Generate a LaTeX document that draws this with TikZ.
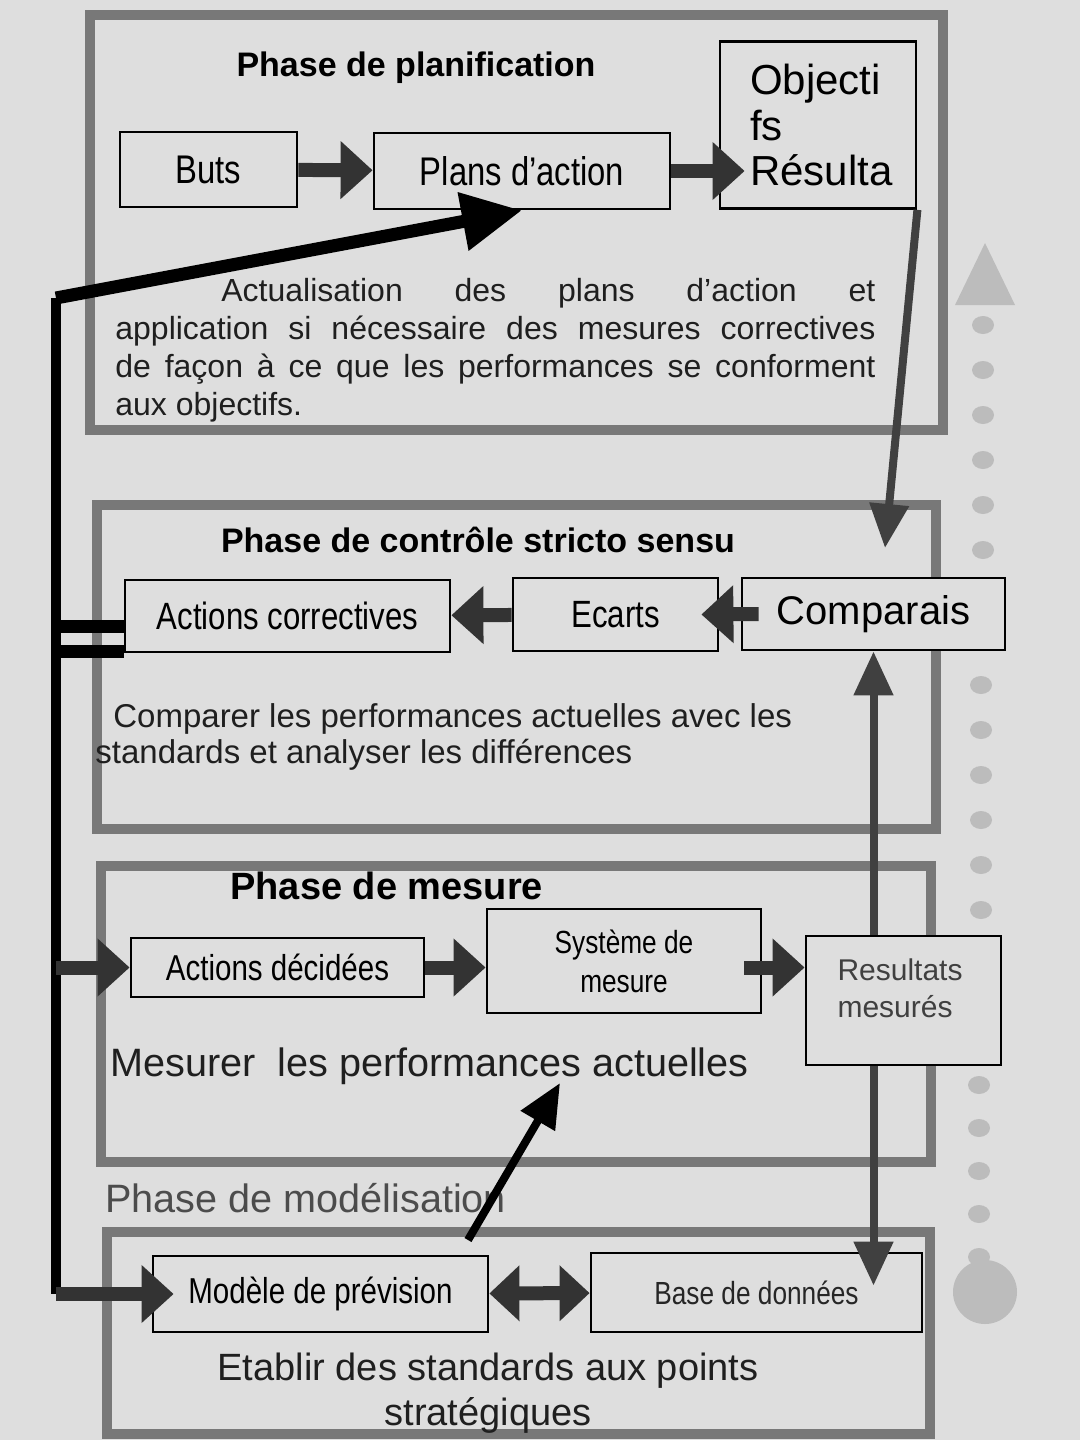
\documentclass[tikz,border=0pt]{standalone}
\usepackage{fontspec}
\setmainfont{Liberation Sans}
\newfontfamily\narrowfont[FakeStretch=0.82]{Liberation Sans}
\usepackage{tikz}
\usetikzlibrary{calc}
\usetikzlibrary{positioning}
\usetikzlibrary{arrows.meta}
\definecolor{pagegray}{RGB}{222,222,222}
\definecolor{framegray}{RGB}{120,120,120}
\definecolor{dotgray}{RGB}{188,188,188}
\tikzset{
  box_n/.style = {draw=black, line width=1.4pt, fill=pagegray, inner sep=2pt,
    align=center, font=\narrowfont\fontsize{19}{22}\selectfont},   % narrow label box
  box_w/.style = {box_n, font=\fontsize{20}{22.5}\selectfont},     % wide label box
  phase_t/.style = {inner sep=0pt, font=\bfseries\fontsize{17}{20}\selectfont}, % phase title
  phase_f/.style = {draw=framegray, line width=5pt},               % phase frame
  body_t/.style = {inner sep=0pt, align=left, text=black!88,
    font=\fontsize{16}{19}\selectfont},                             % running text
  arr_b/.style = {draw=black!80, line width=7pt,
    -{Triangle[length=16pt,width=28pt]}},                           % block arrow
  arr_d/.style = {draw=black!80, line width=7pt,
    {Triangle[length=15pt,width=27pt]}-{Triangle[length=15pt,width=27pt]}},
  loop_l/.style = {draw=black, line width=5pt},                    % feedback line
  side_l/.style = {draw=black!75, line width=4pt,
    -{Triangle[length=22pt,width=19pt]}}                            % thin arrow
}

\begin{document}
\begin{tikzpicture}[x=0.5pt,y=-0.5pt]
\useasboundingbox (0,0) rectangle (1080,1440);
\fill[pagegray] (0,0) rectangle (1080,1440);

% phase frames
\draw[phase_f] (90,15) rectangle (943,430);
\draw[phase_f] (97,505) rectangle (936,829);
\draw[phase_f] (101,866) rectangle (931,1162);
\draw[phase_f] (107,1232) rectangle (930,1434);

% dotted arrow on the right
\fill[dotgray] (955,305) -- (985,243) -- (1015,305) -- cycle;
\foreach \y in {325,370,...,550}
  \fill[dotgray] (983,\y) ellipse [x radius=11, y radius=9];
\foreach \y in {685,730,...,910}
  \fill[dotgray] (981,\y) ellipse [x radius=11, y radius=9];
\foreach \y in {1085,1128,...,1257}
  \fill[dotgray] (979,\y) ellipse [x radius=11, y radius=9];
\fill[dotgray] (985,1292) circle [radius=32];

% planification
\node[phase_t] (t_plan) at (416,68) {Phase de planification};
\node[box_n, minimum width=88.5pt, minimum height=37.5pt,
  font=\narrowfont\fontsize{20}{22}\selectfont] (buts) at (208.5,169.5) {Buts};
\node[box_n, minimum width=148pt, minimum height=38pt,
  font=\narrowfont\fontsize{20}{22}\selectfont] (plans) at (522,171) {Plans d’action};
\node[box_w, minimum width=98pt, minimum height=83.5pt, text width=68pt, align=left,
  font=\fontsize{21}{22.7}\selectfont] (obj) at (818,125) {Objecti\\fs\\Résulta};
\node[body_t, text width=380pt, align=justify, anchor=north west] (txt_plan) at (115,278)
  {\hspace*{53pt}Actualisation des plans d’action et\linebreak
   application si nécessaire des mesures correctives\linebreak
   de façon à ce que les performances se conforment\linebreak
   aux objectifs.};

% controle
\node[phase_t] (t_ctrl) at (478,540) {Phase de contrôle stricto sensu};
\node[box_n, minimum width=162.5pt, minimum height=36pt] (actcorr) at (287.5,616) {Actions correctives};
\node[box_n, minimum width=102.5pt, minimum height=36.5pt] (ecarts) at (615.5,614.5) {Ecarts};
\node[box_w, minimum width=131.5pt, minimum height=36pt] (comp) at (873.5,614) {Comparais};
\node[body_t, anchor=north west, font=\fontsize{16.5}{18}\selectfont] (txt_ctrl) at (95,703)
  {\hspace*{9pt}Comparer les performances actuelles avec les\\standards et analyser les différences};

% mesure
\node[phase_t, anchor=west, font=\bfseries\fontsize{19}{22}\selectfont] (t_mes) at (230,886) {Phase de mesure};
\node[box_n, minimum width=146.5pt, minimum height=29.5pt,
  font=\narrowfont\fontsize{18}{21}\selectfont] (ad) at (277.5,967.5) {Actions décidées};
\node[box_n, minimum width=137pt, minimum height=52pt,
  font=\narrowfont\fontsize{16}{19.5}\selectfont] (sm) at (624,961) {Système de\\mesure};
\node[box_w, minimum width=97.5pt, minimum height=64.5pt, text width=66pt, align=left,
  text=black!75, font=\fontsize{15}{18.5}\selectfont] (rm) at (903.5,1000.5)
  {Resultats\\mesurés\\[-6pt]\mbox{}};
\node[body_t, anchor=west, font=\fontsize{19.8}{22}\selectfont] (txt_mes) at (110,1066)
  {Mesurer\ \ les performances actuelles};

% modelisation
\node[body_t, anchor=west, text=black!70, font=\fontsize{19.8}{22}\selectfont] (t_mod) at (105,1198)
  {Phase de modélisation};
\node[box_n, minimum width=167.5pt, minimum height=38pt,
  font=\narrowfont\fontsize{18}{21}\selectfont] (mod) at (320.5,1294) {Modèle de prévision};
\node[box_n, minimum width=165.5pt, minimum height=39.5pt, text=black!85,
  font=\narrowfont\fontsize{16}{19}\selectfont] (base) at (756.5,1292.5) {Base de données};
\node[body_t, align=center, font=\fontsize{19}{22.5}\selectfont] (txt_mod) at (488,1393)
  {Etablir des standards aux points\\stratégiques};

% block arrows between boxes
\draw[arr_b] (buts) -- (plans);
\coordinate (obj_in) at ($(obj.west |- plans.east)+(26,0)$);
\draw[arr_b] (plans.east) -- (obj_in);
\coordinate (comp_out) at ($(comp.west)+(18,0)$);
\coordinate (ecarts_in) at ($(ecarts.east)+(-18,0)$);
\draw[arr_b] (comp_out) -- (ecarts_in);
\draw[arr_b] (ecarts) -- (actcorr);
\draw[arr_b] (ad) -- (sm.west |- ad.east);
\coordinate (sm_out) at ($(sm.east |- ad.east)+(-18,0)$);
\draw[arr_b] (sm_out) -- (rm.west |- ad.east);
\draw[arr_d] (mod) -- (base);

% feedback loop on the left
\coordinate (ltop) at (56,298);
\draw[loop_l, line width=6.5pt, -{Triangle[length=30pt,width=28pt]}] (ltop) -- (plans.south);
\draw[loop_l] (ltop) -- (ltop |- mod.west);
\coordinate (bar_a) at ($(actcorr.west)+(0,10)$);
\coordinate (bar_b) at ($(actcorr.west)+(0,35)$);
\draw[loop_l, line width=6.5pt] (bar_a) -- (bar_a -| ltop);
\draw[loop_l, line width=6.5pt] (bar_b) -- (bar_b -| ltop);
\draw[arr_b] (ltop |- ad.west) -- (ad.west);
\coordinate (mod_in) at ($(mod.west)+(22,0)$);
\draw[arr_b] (ltop |- mod.west) -- (mod_in);

% links on the right and the model
\coordinate (comp_top) at (885,548);
\draw[side_l] (obj.south east) -- (comp_top);
\draw[side_l] (rm.north -| comp.south) -- (comp.south);
\coordinate (base_in) at ($(base.north -| comp.south)+(0,34)$);
\draw[side_l] (rm.south -| comp.south) -- (base_in);
\coordinate (mod_out) at (468,1240);
\coordinate (mes_in) at (560,1083);
\draw[side_l, draw=black] (mod_out) -- (mes_in);
\end{tikzpicture}
\end{document}
